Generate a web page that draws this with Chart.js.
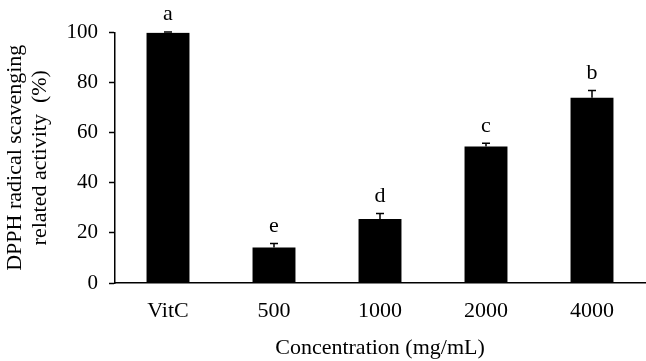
<!DOCTYPE html>
<html>
<head>
<meta charset="utf-8">
<script src="https://cdn.jsdelivr.net/npm/chart.js@4.4.0/dist/chart.umd.min.js"></script>
<style>
  html, body { margin: 0; padding: 0; background: #fff; }
  #wrap { width: 646px; height: 361px; }
</style>
</head>
<body>
<div id="wrap"><canvas id="c" width="646" height="361"></canvas></div>
<script>
const categories = ['VitC', '500', '1000', '2000', '4000'];
const values = [99.9, 14.2, 25.5, 54.5, 74.0];
const errors = [0.3, 1.6, 2.2, 1.3, 2.8];
const letters = ['a', 'e', 'd', 'c', 'b'];
const yTicks = [0, 20, 40, 60, 80, 100];

const FONT = '"Liberation Serif", "Times New Roman", serif';

const errorPlugin = {
  id: 'errorLetters',
  afterDatasetsDraw(chart) {
    const ctx = chart.ctx;
    const meta = chart.getDatasetMeta(0);
    const y = chart.scales.y;
    ctx.save();
    ctx.strokeStyle = '#000';
    ctx.lineWidth = 1.5;
    ctx.fillStyle = '#000';
    ctx.font = '22px ' + FONT;
    ctx.textAlign = 'center';
    ctx.textBaseline = 'alphabetic';
    meta.data.forEach((bar, i) => {
      const x = bar.x;
      const yTop = y.getPixelForValue(values[i]);
      const yCap = y.getPixelForValue(values[i] + errors[i]);
      ctx.beginPath();
      ctx.moveTo(x, yTop);
      ctx.lineTo(x, yCap);
      ctx.moveTo(x - 4, yCap);
      ctx.lineTo(x + 4, yCap);
      ctx.stroke();
      ctx.fillText(letters[i], x, yCap - 11.5);
    });
    ctx.restore();
  }
};

new Chart(document.getElementById('c'), {
  type: 'bar',
  data: {
    labels: categories,
    datasets: [{
      data: values,
      backgroundColor: '#000',
      borderWidth: 0,
      barPercentage: 0.405,
      categoryPercentage: 1.0
    }]
  },
  options: {
    responsive: false,
    animation: false,
    devicePixelRatio: 1,
    layout: { padding: { top: 32.5, right: 1, left: 0, bottom: 0 } },
    plugins: { legend: { display: false }, tooltip: { enabled: false } },
    scales: {
      x: {
        afterFit(scale) { scale.height = 78; },
        grid: { display: true, drawOnChartArea: false, drawTicks: false },
        border: { display: true, color: '#000', width: 1.5 },
        ticks: { color: '#000', padding: 15, font: { family: FONT, size: 22 } },
        title: {
          display: true,
          text: 'Concentration (mg/mL)',
          color: '#000',
          font: { family: FONT, size: 22, lineHeight: 1.0 },
          padding: { top: 0, bottom: 2 }
        }
      },
      y: {
        min: 0,
        max: 100,
        afterFit(scale) { scale.width = 115; },
        afterBuildTicks(scale) { scale.ticks = yTicks.map(v => ({ value: v })); },
        grid: { display: true, drawOnChartArea: false, drawTicks: true, tickLength: 6, color: '#000', tickWidth: 1.5 },
        border: { display: true, color: '#000', width: 1.5 },
        ticks: { color: '#000', padding: 11, font: { family: FONT, size: 21 } },
        title: {
          display: true,
          text: ['DPPH radical scavenging', 'related activity  (%)'],
          color: '#000',
          font: { family: FONT, size: 22, lineHeight: 1.15 },
          padding: { top: 2.4, bottom: 0 }
        }
      }
    }
  },
  plugins: [errorPlugin]
});
</script>
</body>
</html>
